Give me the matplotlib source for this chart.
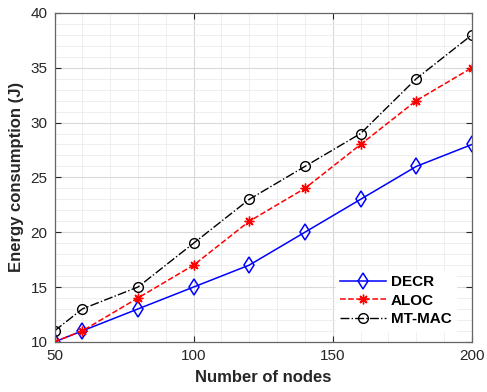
import matplotlib
matplotlib.use("Agg")
import matplotlib.pyplot as plt
from matplotlib.ticker import MultipleLocator

nodes = [50, 60, 80, 100, 120, 140, 160, 180, 200]
decr = [10, 11, 13, 15, 17, 20, 23, 26, 28]
aloc = [10, 11, 14, 17, 21, 24, 28, 32, 35]
mtmac = [11, 13, 15, 19, 23, 26, 29, 34, 38]

plt.rcParams["font.family"] = ["Liberation Sans", "DejaVu Sans"]

fig = plt.figure(figsize=(4.87, 3.92), dpi=100)
ax = fig.add_axes([0.112, 0.128, 0.857, 0.839])

ax.plot(nodes, decr, "-", color="#0000ff", marker="d", mfc="none", mec="#0000ff",
        ms=8, mew=1.1, lw=1.1, label="DECR")
ax.plot(nodes, aloc, "--", color="#ff0000", marker=(8, 2, 0), mfc="#ff0000", mec="#ff0000",
        ms=7, mew=1.0, lw=1.1, label="ALOC")
ax.plot(nodes, mtmac, "-.", color="#000000", marker="o", mfc="none", mec="#000000",
        ms=7, mew=1.0, lw=1.0, label="MT-MAC")

ax.set_xlim(50, 200)
ax.set_ylim(10, 40)
ax.xaxis.set_major_locator(MultipleLocator(50))
ax.xaxis.set_minor_locator(MultipleLocator(10))
ax.yaxis.set_major_locator(MultipleLocator(5))
ax.yaxis.set_minor_locator(MultipleLocator(1))

ax.grid(which="major", color="#d9d9d9", lw=0.8)
ax.grid(which="minor", color="#ececec", lw=0.6)
ax.set_axisbelow(True)

ax.tick_params(which="both", direction="in", top=True, right=True,
               labelsize=11, colors="#262626", length=4, pad=5)
ax.tick_params(which="minor", length=0)
for s in ax.spines.values():
    s.set_edgecolor("#666666")
    s.set_linewidth(0.9)

ax.set_xlabel("Number of nodes", fontsize=12, fontweight="bold", color="#262626", labelpad=5)
ax.set_ylabel("Energy consumption (J)", fontsize=12, fontweight="bold", color="#262626", labelpad=5)

leg = ax.legend(loc="lower right", bbox_to_anchor=(0.98, 0.01),
                prop={"weight": "bold", "size": 11}, frameon=True, fancybox=False,
                edgecolor="white", framealpha=1, handlelength=3.0,
                labelspacing=0.3, borderpad=0.3, handletextpad=0.3)

fig.savefig("out.png", dpi=100)
